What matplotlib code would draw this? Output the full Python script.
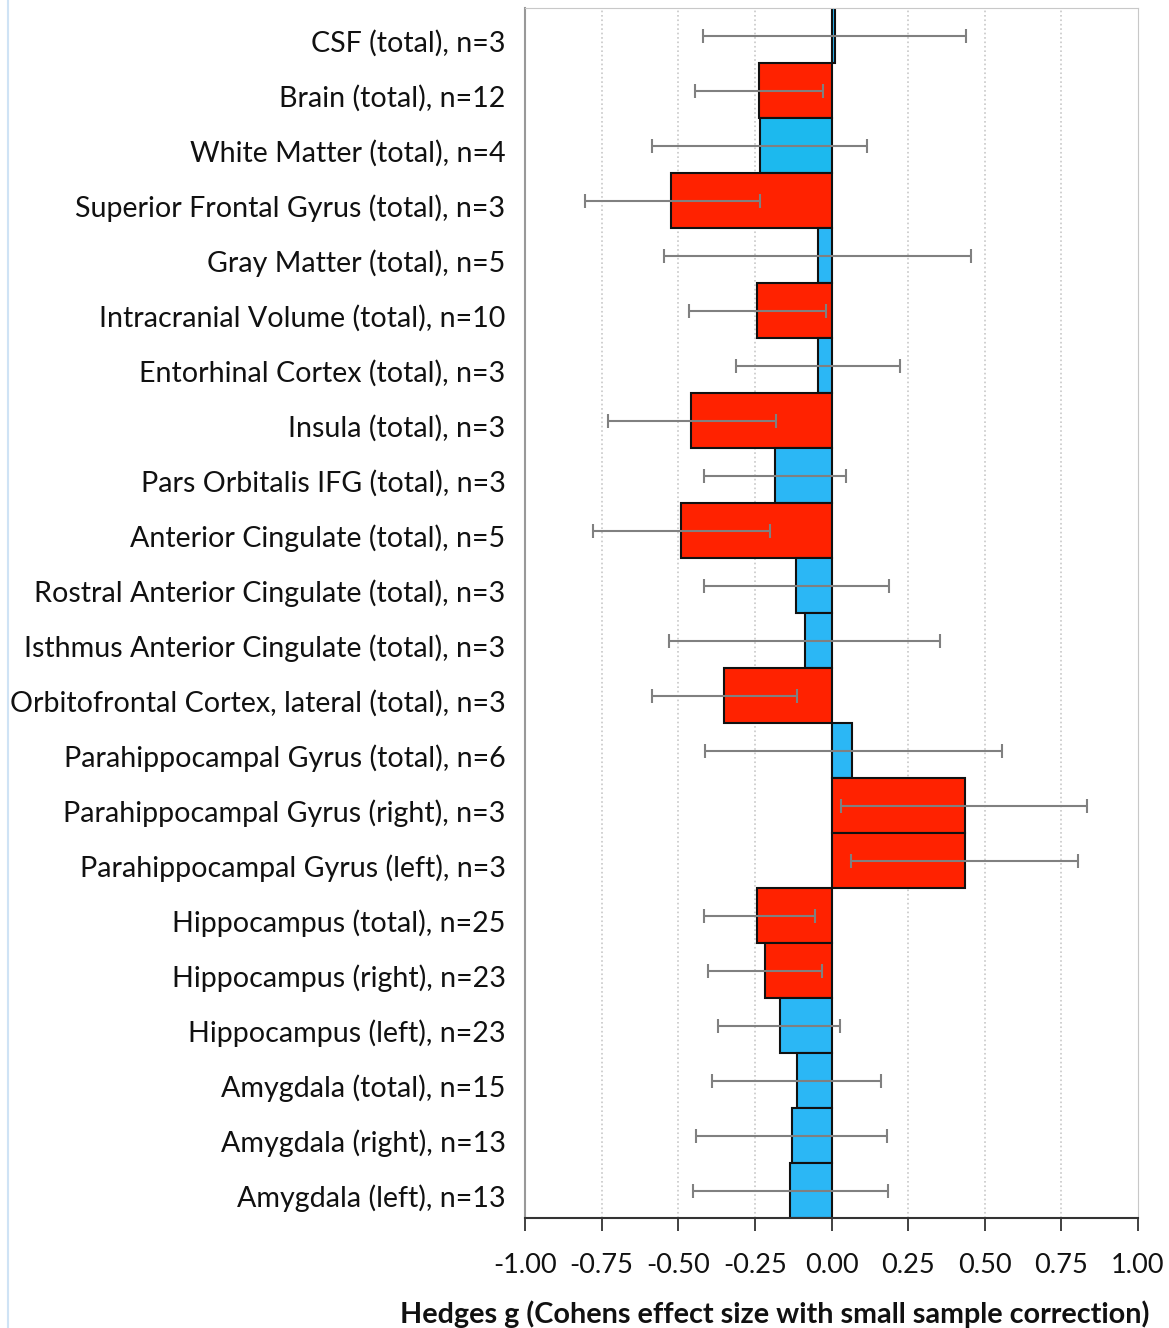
import numpy as np
import matplotlib
matplotlib.use('Agg')
import matplotlib.pyplot as plt
import matplotlib.transforms as mtransforms
from matplotlib.lines import Line2D

regions = ['CSF (total), n=3', 'Brain (total), n=12', 'White Matter (total), n=4',
           'Superior Frontal Gyrus (total), n=3', 'Gray Matter (total), n=5',
           'Intracranial Volume (total), n=10', 'Entorhinal Cortex (total), n=3',
           'Insula (total), n=3', 'Pars Orbitalis IFG (total), n=3',
           'Anterior Cingulate (total), n=5', 'Rostral Anterior Cingulate (total), n=3',
           'Isthmus Anterior Cingulate (total), n=3',
           'Orbitofrontal Cortex, lateral (total), n=3',
           'Parahippocampal Gyrus (total), n=6', 'Parahippocampal Gyrus (right), n=3',
           'Parahippocampal Gyrus (left), n=3', 'Hippocampus (total), n=25',
           'Hippocampus (right), n=23', 'Hippocampus (left), n=23',
           'Amygdala (total), n=15', 'Amygdala (right), n=13', 'Amygdala (left), n=13']
hedges_g = [0.01, -0.237, -0.233, -0.524, -0.044, -0.243, -0.044, -0.458, -0.184,
            -0.491, -0.116, -0.086, -0.351, 0.067, 0.435, 0.435, -0.243, -0.217,
            -0.168, -0.113, -0.129, -0.136]
ci_low = [-0.42, -0.445, -0.585, -0.804, -0.546, -0.465, -0.312, -0.729, -0.416,
          -0.778, -0.416, -0.530, -0.585, -0.413, 0.031, 0.065, -0.416, -0.403,
          -0.370, -0.390, -0.441, -0.452]
ci_high = [0.44, -0.028, 0.116, -0.233, 0.455, -0.018, 0.223, -0.181, 0.047,
           -0.201, 0.188, 0.354, -0.112, 0.556, 0.834, 0.804, -0.054, -0.031,
           0.028, 0.161, 0.181, 0.184]
significant = [False, True, False, True, False, True, False, True, False, True,
               False, False, True, False, True, True, True, True, False, False,
               False, False]

plt.rcParams['font.family'] = ['Lato', 'DejaVu Sans']

fig = plt.figure(figsize=(11.69, 13.28), dpi=100)
ax = fig.add_axes([525 / 1169, 1 - 1218 / 1328, 613 / 1169, 1210 / 1328])

y = np.arange(len(regions))
g = np.array(hedges_g)
colors = ['#FF2200' if s else '#2BB7F5' for s in significant]
colors[2] = '#1CB9EE'
ax.barh(y, g, height=1.0, color=colors, edgecolor='#111111', linewidth=1.5, zorder=2)

xerr = [g - np.array(ci_low), np.array(ci_high) - g]
ax.errorbar(g, y, xerr=xerr, fmt='none', ecolor='#808080', elinewidth=1.5,
            capsize=5, capthick=1.5, zorder=3)

ax.set_xlim(-1, 1)
ax.set_ylim(len(regions) - 0.5, -0.5)
ticks = np.arange(-1, 1.01, 0.25)
ax.set_xticks(ticks)
ax.set_xticklabels([f'{v:.2f}' for v in ticks])
ax.set_yticks(y)
ax.set_yticklabels(regions)
ax.tick_params(axis='y', length=0, pad=14, labelsize=20.6, labelcolor='#111111')
ax.tick_params(axis='x', direction='out', length=9, width=1.3, color='#333333',
               pad=16, labelsize=19.5, labelcolor='#111111')

# nudge category labels down a few pixels
shift = mtransforms.ScaledTranslation(0, -5 / 100, fig.dpi_scale_trans)
for lbl in ax.get_yticklabels():
    lbl.set_transform(lbl.get_transform() + shift)

for v in np.arange(-0.75, 1.0, 0.25):
    ax.axvline(v, color='#C8C8C8', linestyle=':', linewidth=1.2, zorder=0)

ax.spines['left'].set_color('#999999')
ax.spines['left'].set_linewidth(1.5)
ax.spines['bottom'].set_color('#333333')
ax.spines['bottom'].set_linewidth(1.5)
ax.spines['top'].set_color('#C8C8C8')
ax.spines['right'].set_color('#C8C8C8')

ax.set_xlabel('Hedges g (Cohens effect size with small sample correction)',
              fontsize=20.7, fontweight='bold', color='#111111')
ax.xaxis.set_label_coords(0.408, -0.068)

fig.add_artist(Line2D([8 / 1169, 8 / 1169], [0, 1], color='#CFE3F5', linewidth=1.5))

fig.savefig('out.png', dpi=100)
